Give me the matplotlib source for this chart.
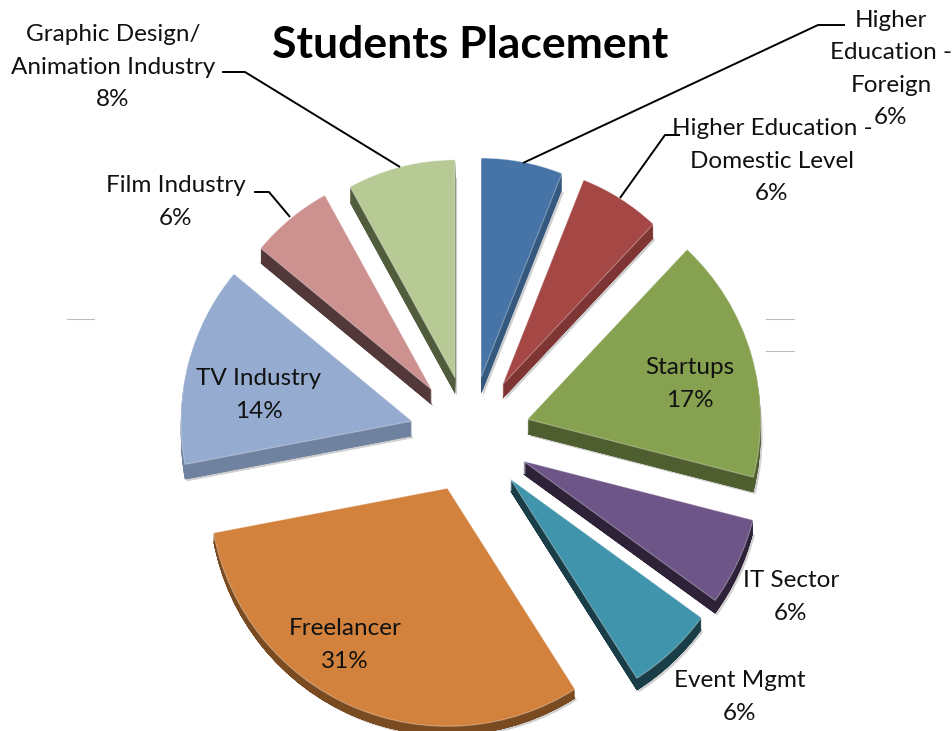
import matplotlib
matplotlib.use("Agg")
import matplotlib.pyplot as plt

categories = ["Higher Education - Foreign", "Higher Education - Domestic Level", "Startups",
              "IT Sector", "Event Mgmt", "Freelancer", "TV Industry", "Film Industry",
              "Graphic Design/ Animation Industry"]
values = [6, 6, 17, 6, 6, 31, 14, 6, 8]
explode = [60, 61, 60, 59, 59, 57, 60, 60, 60]
radii = [219, 220, 233, 237, 236, 238, 231, 222, 218]
depths = [17, 14, 15, 13, 12, 9, 15, 15, 16]
top_colors = ["#4674A6", "#A44745", "#86A14F", "#6E5588", "#4094AB", "#D3823D", "#95ABCF", "#CD9190", "#B7C994"]
side_colors = ["#35587F", "#7E3533", "#4F5E2E", "#2D2238", "#1A3E48", "#7A4A20", "#6F829F", "#53383A", "#505C3C"]

plt.rcParams['font.family'] = ['Lato', 'DejaVu Sans']
fig = plt.figure(figsize=(9.53, 7.31), dpi=100)
ax = fig.add_axes([0, 0, 1, 1])
W, H = 953, 731
CX, CY = 470, H - 436


def layer(colors, shift=0, extra=0, dx=0, **kw):
    wedges = ax.pie(values, explode=explode, colors=colors, startangle=90, counterclock=False,
                    radius=238, center=(CX, CY), frame=True, **kw)[0]
    for w, r, dep in zip(wedges, radii, depths):
        w.set_radius(r)
        x, y = w.center
        w.set_center((x + dx, y - min(shift, dep) - extra))


# soft shadow
layer(["#00000030"] * len(values), shift=99, extra=2, dx=2)
# side walls
for d in range(max(depths), 0, -1):
    layer(side_colors, shift=d)
# top faces with a thin light rim
layer(top_colors, wedgeprops=dict(edgecolor="#FFFFFF55", linewidth=0.8))

ax.set_xlim(0, W)
ax.set_ylim(0, H)
ax.set_aspect('auto')
ax.axis('off')


def px(x, y):
    return x, H - y


leaders = [
    [(523, 163), (818, 25), (845, 25)],
    [(620, 198), (665, 135), (680, 135)],
    [(400, 167), (245, 72), (222, 72)],
    [(290, 217), (269, 192), (254, 192)],
]
for pts in leaders:
    xs, ys = zip(*[px(*p) for p in pts])
    ax.plot(xs, ys, color="black", lw=1.4, solid_capstyle="butt", zorder=5)

for x0, x1, y in [(67, 94, 319), (766, 794, 319), (766, 794, 351)]:
    ax.plot([x0, x1], [H - y, H - y], color="#BBBBBB", lw=0.8, zorder=1)

labels = [
    (891, 69, "Higher\nEducation -\nForeign\n6%"),
    (772, 161, "Higher Education -\nDomestic Level\n6%"),
    (690, 384, "Startups\n17%"),
    (791, 597, "IT Sector\n6%"),
    (740, 697, "Event Mgmt\n6%"),
    (345, 645, "Freelancer\n31%"),
    (259, 395, "TV Industry\n14%"),
    (176, 202, "Film Industry\n6%"),
    (113, 67, "Graphic Design/\nAnimation Industry\n8%"),
]
for x, y, s in labels:
    tx, ty = px(x, y)
    ax.text(tx, ty, s, ha="center", va="center", fontsize=17.5, color="#111111",
            linespacing=1.67, zorder=6)

tx, ty = px(470, 45)
ax.text(tx, ty, "Students Placement", ha="center", va="center", fontsize=32,
        fontweight="bold", color="black", zorder=6)

fig.savefig("out.png", dpi=100)
